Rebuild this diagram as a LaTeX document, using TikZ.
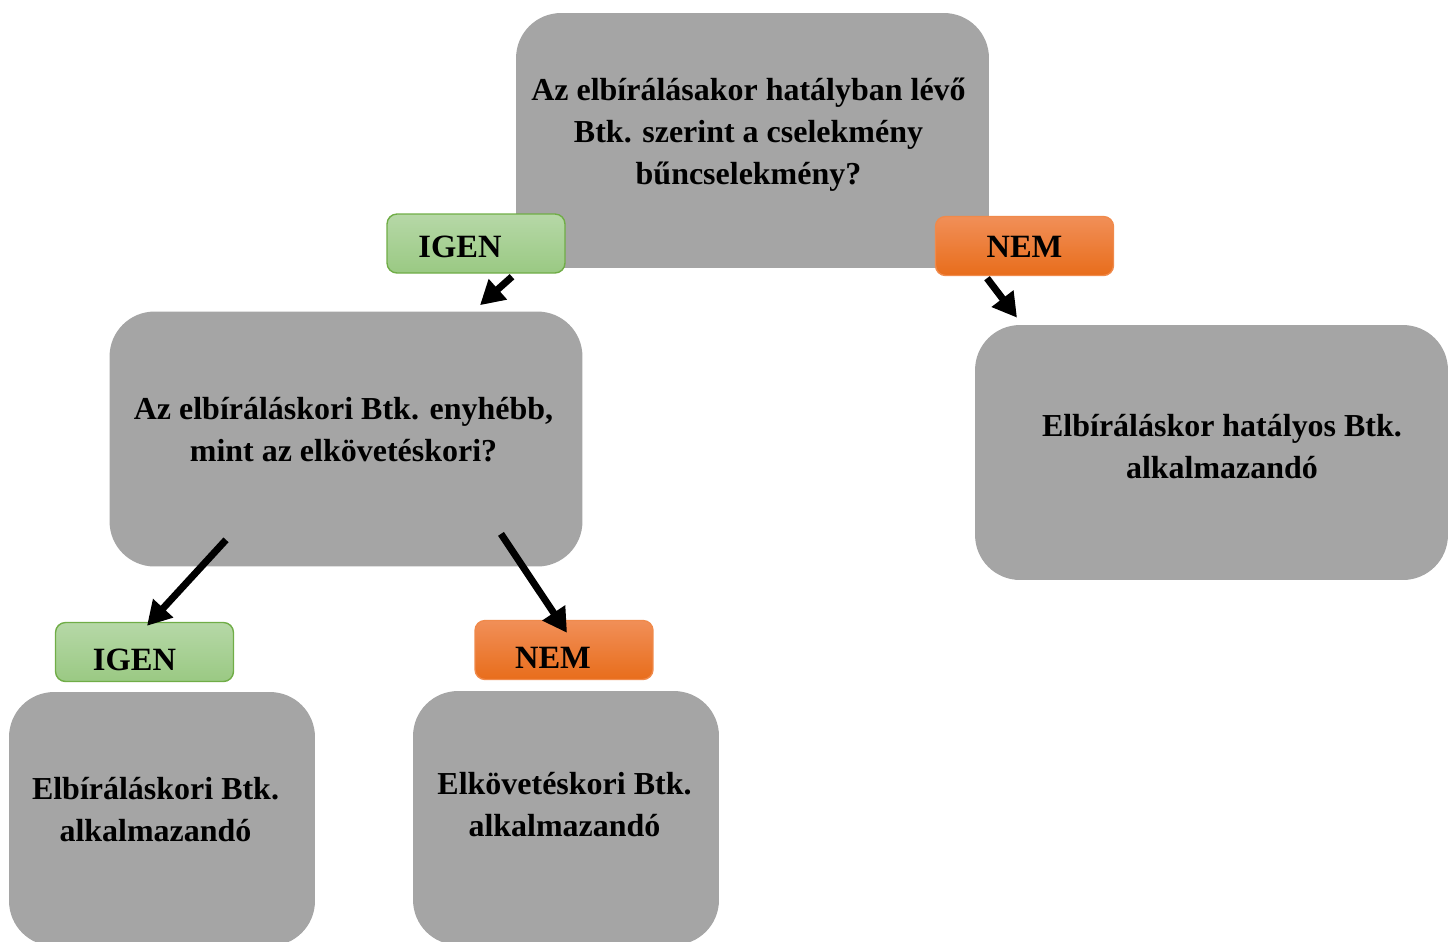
\documentclass[tikz,border=0pt]{standalone}
\usepackage{fontspec}
\setmainfont{Liberation Serif}
\usetikzlibrary{arrows.meta,calc}

\definecolor{boxgray}{HTML}{A5A5A5}
\definecolor{yestop}{HTML}{B6D8A7}
\definecolor{yesbot}{HTML}{9AC983}
\definecolor{yesline}{HTML}{70AD47}
\definecolor{notop}{HTML}{F18F58}
\definecolor{nobot}{HTML}{E86D1B}
\definecolor{noline}{HTML}{F08A4B}

% label text moved by (x, down) inside its box
\newcommand{\lbltext}[3]{\hspace*{#1}\raisebox{-#2}[\height][\depth]{#3}}

\tikzset{
	gbox/.style={rectangle, rounded corners=0.9cm, fill=boxgray, draw=none, minimum width=9.46cm, minimum height=5.1cm, inner sep=0pt},
	smallbox/.style={gbox, minimum width=6.12cm, minimum height=5.08cm},
	txt/.style={align=center, font=\fontsize{18.2}{23.9}\selectfont\bfseries, inner sep=0pt},
	yesbox/.style={rectangle, rounded corners=0.2cm, top color=yestop, bottom color=yesbot, draw=yesline, line width=0.8pt, minimum width=3.56cm, minimum height=1.18cm, font=\fontsize{18.5}{22}\selectfont\bfseries},
	nobox/.style={yesbox, top color=notop, bottom color=nobot, draw=noline},
	arr/.style={line width=0.14cm, -{Triangle[length=0.48cm, width=0.52cm]}}
}

\begin{document}
\begin{tikzpicture}[x=0.02cm, y=-0.02cm]
	\useasboundingbox (0,0) rectangle (1453,941);

	% question boxes
	\node (q1) [gbox] at (752.5,140.5) {};
	\node (q1t) [txt] at (748.5,135) {Az elbírálásakor hatályban lévő\\Btk. szerint a cselekmény\\bűncselekmény?};
	\node (q2) [gbox] at (346,439) {};
	\node (q2t) [txt] at (343.5,430) {Az elbíráláskori Btk. enyhébb,\\mint az elkövetéskori?};

	% answer boxes
	\node (r1) [gbox] at (1211.5,452.5) {};
	\node (r1t) [txt] at (1222,447) {Elbíráláskor hatályos Btk.\\alkalmazandó};
	\node (r2) [smallbox] at (162,819) {};
	\node (r2t) [txt] at (155.5,810) {Elbíráláskori Btk.\\alkalmazandó};
	\node (r3) [smallbox] at (566,818) {};
	\node (r3t) [txt] at (564.5,804.5) {Elkövetéskori Btk.\\alkalmazandó};

	% labels
	\node (igenA) [yesbox] at (476,243.5) {\lbltext{-0.64cm}{0.06cm}{IGEN}};
	\node (nemA) [nobox] at (1024.5,246) {\lbltext{0cm}{0.02cm}{NEM}};
	\node (igenB) [yesbox] at (144.5,652) {\lbltext{-0.4cm}{0.16cm}{IGEN}};
	\node (nemB) [nobox] at (564,650) {\lbltext{-0.44cm}{0.16cm}{NEM}};

	% arrows
	\draw[arr] ($(igenA.south)+(36,3)$) -- ($(q2.north)+(134,-6)$);
	\draw[arr] ($(nemA.south)+(-37.5,2)$) -- ($(r1.north)+(-194.5,-7)$);
	\draw[arr] ($(q2.south)+(-120,-27)$) -- ($(igenB.north)+(2.5,4)$);
	\draw[arr] ($(q2.south)+(155,-33)$) -- ($(nemB.north)+(3,13)$);
\end{tikzpicture}
\end{document}
